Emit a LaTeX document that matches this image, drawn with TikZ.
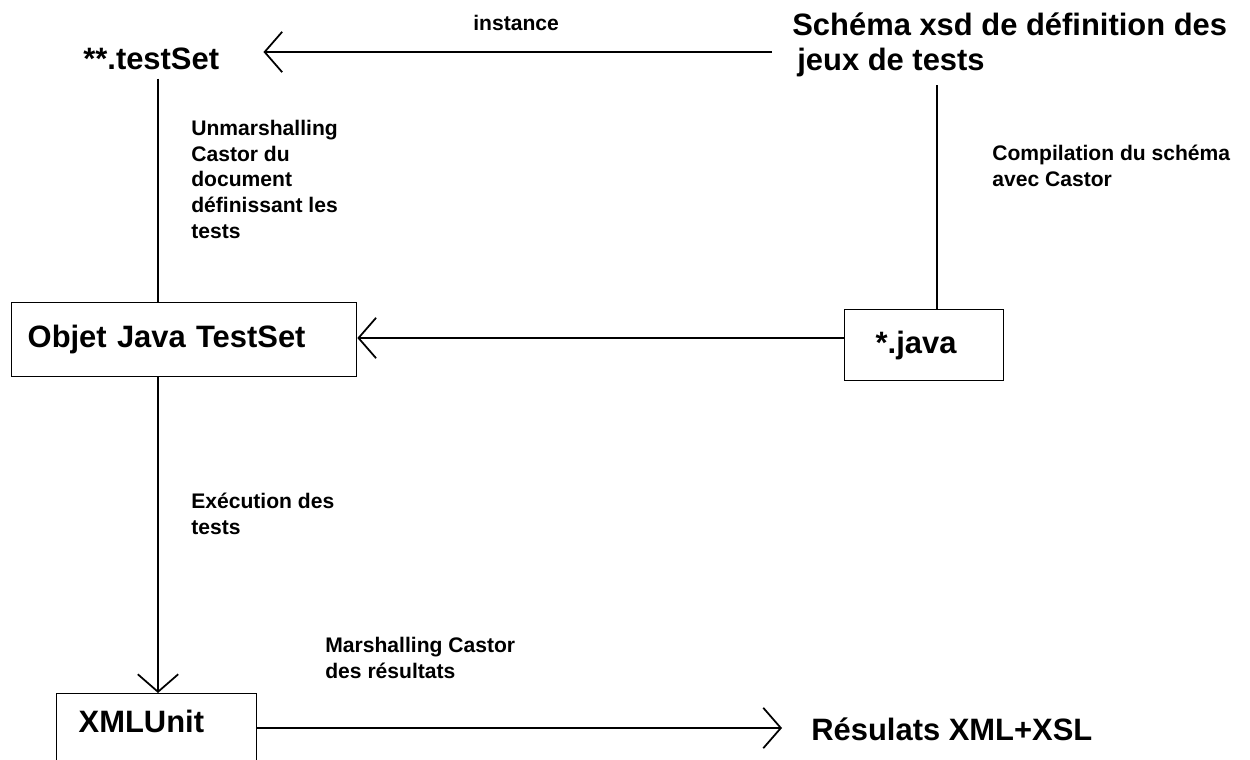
\documentclass[tikz,border=0pt]{standalone}
\usepackage{fontspec}
\setmainfont{Liberation Sans}
\usetikzlibrary{arrows.meta}

\tikzset{
  grand/.style={font=\fontsize{17.6}{19.8}\selectfont\bfseries, inner sep=0.16cm},
  petit/.style={font=\fontsize{12}{14.7}\selectfont\bfseries, align=left, inner sep=0pt},
  boite/.style={draw, line width=0.8pt, font=\fontsize{17.6}{19.8}\selectfont\bfseries, align=left, inner ysep=0pt},
  ligne/.style={line width=1.5pt},
  fleche/.style={line width=1.5pt, -{Straight Barb[length=10pt,width=23pt,line width=1pt]}},
}

\begin{document}
\begin{tikzpicture}[x=0.02cm,y=-0.02cm]
\useasboundingbox (0,0) rectangle (1250,760);

% reperes des traits
\coordinate (gauche) at (158,0);
\coordinate (droite) at (937,0);
\coordinate (haut) at (0,52);
\coordinate (milieu) at (0,338);
\coordinate (bas) at (0,728);

% fichiers et schema
\node[grand, anchor=base west] (testset) at (75,70) {**.testSet};
\node[grand, anchor=north west, align=left] (schema) at (784,4.5) {Sch\'ema xsd de d\'efinition des\\ \hspace{0.1cm}jeux de tests};
\node[grand, anchor=base west] (resultats) at (803,740) {R\'esulats XML+XSL};

% boites
\node[boite, anchor=north west, minimum width=6.9cm, minimum height=1.48cm, inner xsep=0.32cm, text width=6.26cm] (objet) at (11,302) {Objet Java TestSet};
\node[boite, anchor=north west, minimum width=3.18cm, minimum height=1.42cm, inner xsep=0.62cm, text width=1.94cm] (java) at (844,309) {*.java};
\node[boite, anchor=north west, inner xsep=0.44cm, inner ysep=0.33cm, text width=3.12cm, text depth=1.2cm] (xmlunit) at (56,693) {XMLUnit};

% etiquettes
\node[petit, anchor=base west] (linstance) at (473,31) {instance};
\node[petit, anchor=north west] (lunmarsh) at (191,119.7) {Unmarshalling\\ Castor du\\ document\\ d\'efinissant les\\ tests};
\node[petit, anchor=north west] (lcompil) at (992,144.5) {Compilation du sch\'ema\\ avec Castor};
\node[petit, anchor=north west] (lexec) at (191,492.5) {Ex\'ecution des\\ tests};
\node[petit, anchor=north west] (lmarsh) at (325,636.7) {Marshalling Castor\\ des r\'esultats};

% liens
\draw[fleche, shorten <=0.24cm, shorten >=0.72cm] (schema.west |- haut) -- (testset.east |- haut);
\draw[ligne] (testset.south -| gauche) -- (objet.north -| gauche);
\draw[ligne] (schema.south -| droite) -- (java.north -| droite);
\draw[fleche] (java.west |- milieu) -- (objet.east |- milieu);
\draw[fleche] (objet.south -| gauche) -- (xmlunit.north -| gauche);
\draw[fleche, shorten >=0.42cm] (xmlunit.east |- bas) -- (resultats.west |- bas);
\end{tikzpicture}
\end{document}
